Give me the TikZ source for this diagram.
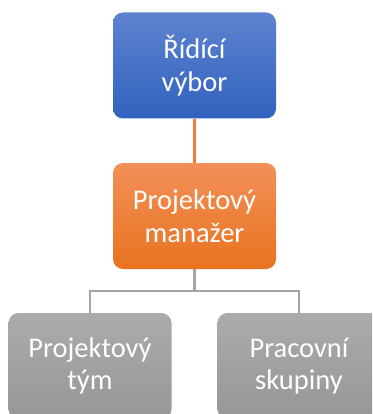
\documentclass[tikz,border=0pt]{standalone}
\usepackage{fontspec}
\setmainfont{Carlito}
\usetikzlibrary{backgrounds}
\definecolor{bluetop}{HTML}{5D83CF}
\definecolor{bluebot}{HTML}{3262BE}
\definecolor{orgtop}{HTML}{F29058}
\definecolor{orgbot}{HTML}{E8731F}
\definecolor{grytop}{HTML}{ABABAB}
\definecolor{grybot}{HTML}{979797}
\definecolor{orgline}{HTML}{ED7D31}
\definecolor{gryline}{HTML}{A5A5A5}
\tikzset{
  box/.style={rounded corners=10pt, minimum width=163pt, minimum height=106pt,
    align=center, text=white, font=\fontsize{28.5}{32.5}\selectfont, inner sep=0pt},
  bluebox/.style={box, top color=bluetop, bottom color=bluebot},
  orgbox/.style={box, top color=orgtop, bottom color=orgbot},
  grybox/.style={box, top color=grytop, bottom color=grybot},
  conn/.style={line width=2.5pt},
}
\begin{document}
\begin{tikzpicture}[x=1pt,y=-1pt]
\useasboundingbox (0,0) rectangle (372,414);
\clip (0,0) rectangle (372,414);
\node[bluebox] (rv) at (194.5,65.5) {Řídící\\výbor};
\node[orgbox] (pm) at (194.5,216) {Projektový\\manažer};
\node[grybox] (pt) at (90,366) {Projektový\\tým};
\node[grybox] (ps) at (299,366) {Pracovní\\skupiny};
\begin{scope}[on background layer]
\draw[conn, orgline] (rv.south) -- (pm.north);
\draw[conn, gryline] (pm.south) -- ++(0,22) coordinate (hj) -| (pt.north);
\draw[conn, gryline] (hj) -| (ps.north);
\end{scope}
\end{tikzpicture}
\end{document}
